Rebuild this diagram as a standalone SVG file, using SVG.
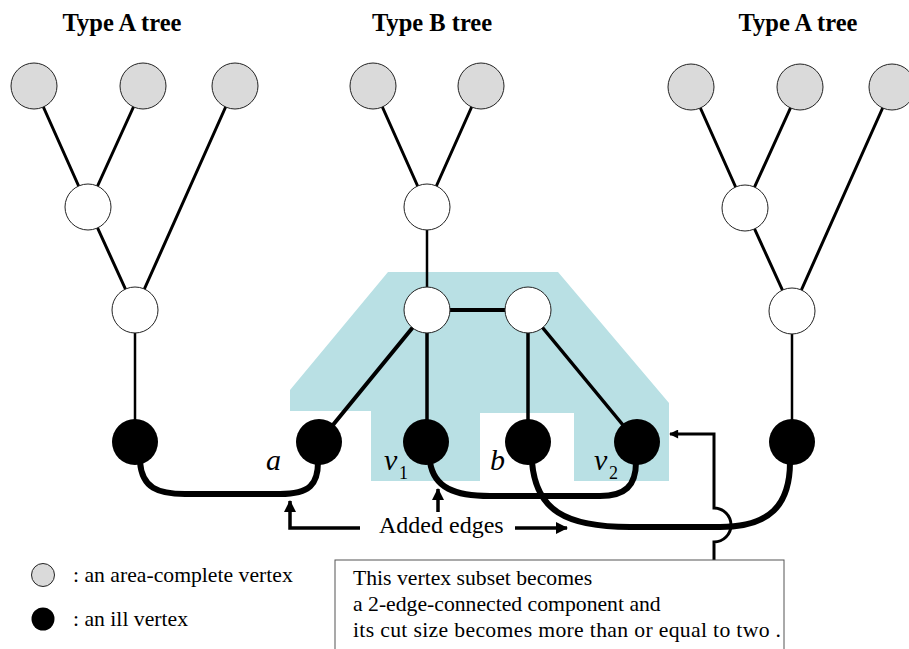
<svg xmlns="http://www.w3.org/2000/svg" width="909" height="649" viewBox="0 0 909 649">
<style>
.title{font-family:"Liberation Serif",serif;font-weight:bold;font-size:24.5px;text-anchor:middle}
.txt{font-family:"Liberation Serif",serif;font-size:21.7px}
.lab{font-family:"Liberation Serif",serif;font-style:italic;font-size:30px}
.sub{font-family:"Liberation Serif",serif;font-size:18px}
.gray{fill:#dadada;stroke:#222;stroke-width:1}
.white{fill:#fff;stroke:#222;stroke-width:1}
.ill{fill:#000}
.e{stroke:#000;stroke-width:3;fill:none}
.ev{stroke:#000;stroke-width:2.5;fill:none}
.add{stroke:#000;stroke-width:6;fill:none;stroke-linecap:round}
.arr{stroke:#000;stroke-width:3.5;fill:none}
</style>
<defs>
<marker id="ah" viewBox="0 0 12 12" refX="11" refY="6" markerWidth="12" markerHeight="12" orient="auto" markerUnits="userSpaceOnUse">
<path d="M0,0 L12,6 L0,12 z" fill="#000"/>
</marker>
<marker id="ah2" viewBox="0 0 10 10" refX="9" refY="5" markerWidth="10" markerHeight="9" orient="auto" markerUnits="userSpaceOnUse">
<path d="M0,0 L10,5 L0,10 z" fill="#000"/>
</marker>
</defs>
<polygon id="component" points="388,272 558,272 669,403 669,481 574,481 574,413 480,413 480,481 371,481 371,411 290,411 290,390" fill="#b9e0e4"/>
<g id="connectors">
<path class="e" d="M34,86 L88,207 M143,86 L88,207 M235,86 L135,310 M88,207 L135,310"/>
<path class="ev" d="M135,310 L135,442"/>
<path class="e" d="M373,86 L427,207 M481,86 L427,207"/>
<path class="ev" d="M427,207 L427,310"/>
<path class="e" d="M691,87 L745,208 M800,87 L745,208 M892,87 L792,311 M745,208 L792,311"/>
<path class="ev" d="M792,311 L792,442"/>
<path d="M427,310 L528,310 M427,310 L319,442" stroke="#000" stroke-width="4" fill="none"/>
<path d="M427,310 L427,442 M528,310 L528,442 M528,310 L637,442" stroke="#000" stroke-width="3.5" fill="none"/>
<path class="add" d="M140,462 C142,488 158,494 185,494 L280,494 C310,494 318,484 318,462"/>
<path class="add" d="M430,462 C434,488 455,496 490,496 L600,496 C625,496 636,486 636,462"/>
<path class="add" d="M532,462 C536,510 565,527 630,527 L720,527 C770,527 790,505 790,462"/>
<path class="arr" d="M360,528 L290,528 L290,501" marker-end="url(#ah)"/>
<path class="arr" d="M438,512 L438,489" marker-end="url(#ah)"/>
<path class="arr" d="M515,528 L567,528" marker-end="url(#ah)"/>
<path d="M714,560 L714,542 A17,17 0 0 0 714,508 L714,434 L670,434" stroke="#000" stroke-width="3" fill="none" marker-end="url(#ah2)"/>
</g>
<g id="titles">
<text class="title" x="122" y="31">Type A tree</text>
<text class="title" x="432" y="31">Type B tree</text>
<text class="title" x="798" y="31">Type A tree</text>
</g>
<g id="nodeA1"><circle class="gray" cx="34" cy="86" r="23"/></g>
<g id="nodeA2"><circle class="gray" cx="143" cy="86" r="23"/></g>
<g id="nodeA3"><circle class="gray" cx="235" cy="86" r="23"/></g>
<g id="nodeA4"><circle class="white" cx="88" cy="207" r="23"/></g>
<g id="nodeA5"><circle class="white" cx="135" cy="310" r="23"/></g>
<g id="nodeA6"><circle class="ill" cx="135" cy="442" r="23"/></g>
<g id="nodeB1"><circle class="gray" cx="373" cy="86" r="23"/></g>
<g id="nodeB2"><circle class="gray" cx="481" cy="86" r="23"/></g>
<g id="nodeB3"><circle class="white" cx="427" cy="207" r="23"/></g>
<g id="nodeB4"><circle class="white" cx="427" cy="310" r="23"/></g>
<g id="nodeB5"><circle class="white" cx="528" cy="310" r="23"/></g>
<g id="node-a"><circle class="ill" cx="319" cy="442" r="23"/><text class="lab" x="266" y="470">a</text></g>
<g id="node-v1"><circle class="ill" cx="426" cy="442" r="23"/><text class="lab" x="384" y="470">v</text><text class="sub" x="399" y="479">1</text></g>
<g id="node-b"><circle class="ill" cx="528" cy="442" r="23"/><text class="lab" x="490" y="470">b</text></g>
<g id="node-v2"><circle class="ill" cx="637" cy="442" r="23"/><text class="lab" x="594" y="470">v</text><text class="sub" x="609" y="479">2</text></g>
<g id="nodeC1"><circle class="gray" cx="691" cy="87" r="23"/></g>
<g id="nodeC2"><circle class="gray" cx="800" cy="87" r="23"/></g>
<g id="nodeC3"><circle class="gray" cx="892" cy="87" r="23"/></g>
<g id="nodeC4"><circle class="white" cx="745" cy="208" r="23"/></g>
<g id="nodeC5"><circle class="white" cx="792" cy="311" r="23"/></g>
<g id="nodeC6"><circle class="ill" cx="792" cy="442" r="23"/></g>
<g id="added-label"><text class="txt" x="379" y="533" style="font-size:24px">Added edges</text></g>
<g id="note">
<rect x="335" y="560" width="449" height="100" fill="#fff" stroke="#555" stroke-width="1"/>
<text class="txt" x="353" y="585">This vertex subset becomes</text>
<text class="txt" x="353" y="611">a 2-edge-connected component and</text>
<text class="txt" x="353" y="637" textLength="428" lengthAdjust="spacing">its cut size becomes more than or equal to two .</text>
</g>
<g id="legend">
<circle class="gray" cx="43" cy="575" r="11.5"/>
<text class="txt" x="73" y="582">: an area-complete vertex</text>
<circle class="ill" cx="43" cy="619" r="11.5"/>
<text class="txt" x="73" y="626">: an ill vertex</text>
</g>
</svg>
